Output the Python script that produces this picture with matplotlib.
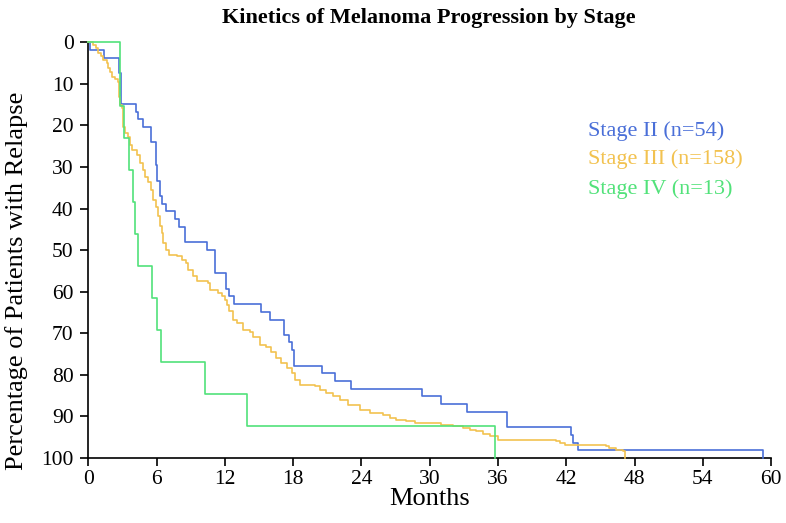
import matplotlib
matplotlib.use("Agg")
import matplotlib.pyplot as plt

# Stage II (n=54): month of each drop, cumulative % relapsed after drop
stage2_t = [0, 0.15, 1.38, 2.7, 2.85, 4.16, 4.39, 4.83, 5.5, 5.94, 6.06, 6.29, 6.44, 6.82,
            7.61, 7.99, 8.49, 10.4, 11.15, 12.1, 12.4, 12.8, 15.2, 16.0, 17.2, 17.65,
            17.94, 18.1, 20.5, 21.66, 23.1, 29.36, 30.97, 33.3, 36.8, 42.4, 42.6, 43.0, 59.3]
stage2_y = [0, 1.85, 3.7, 7.4, 14.8, 16.7, 18.5, 20.4, 24.1, 29.6, 33.3, 37.0, 38.9, 40.7,
            42.6, 44.4, 48.1, 50.0, 55.6, 59.3, 61.1, 63.0, 64.8, 66.7, 70.4, 72.2,
            74.1, 77.8, 79.6, 81.5, 83.3, 85.2, 87.0, 88.9, 92.6, 94.4, 96.3, 98.1, 100]

# Stage III (n=158)
stage3_t = [0, 0.44, 0.68, 0.88, 1.09, 1.32, 1.61, 1.76, 1.91, 2.11, 2.34, 2.58, 2.72, 2.78,
            2.93, 3.02, 3.07, 3.22, 3.51, 3.66, 3.81, 4.25, 4.54, 4.83, 4.98, 5.27, 5.48,
            5.71, 5.94, 6.15, 6.29, 6.44, 6.58, 6.82, 7.11, 7.76, 8.2, 8.58, 8.78, 9.22,
            9.52, 10.54, 10.68, 11.41, 11.71, 12.0, 12.15, 12.38, 12.73, 13.03, 13.61,
            14.2, 14.49, 15.07, 15.66, 16.1, 16.54, 16.98, 17.42, 17.86, 18.15, 18.59,
            19.9, 20.34, 20.93, 21.51, 22.1, 22.83, 23.85, 24.73, 25.9, 26.49, 27.08,
            27.95, 28.68, 31.03, 32.05, 32.92, 33.51, 34.1, 34.68, 35.27, 36.0, 41.12,
            41.41, 41.85, 45.51, 45.8, 46.39, 46.97, 47.2]
stage3_y = [0, 0.6, 1.4, 2.5, 3.3, 4.3, 5.0, 6.3, 7.1, 8.3, 8.9, 9.5, 13.1, 15.1,
            15.9, 17.9, 20.3, 21.9, 22.7, 24.7, 25.9, 27.1, 29.1, 30.7, 32.3, 33.5, 35.5,
            37.9, 39.5, 41.9, 44.3, 45.9, 48.3, 49.9, 51.1, 51.5, 52.3, 53.1, 54.7, 56.3,
            57.5, 57.9, 59.5, 60.3, 61.1, 61.9, 63.1, 64.7, 66.8, 67.5, 69.2,
            69.6, 70.8, 72.8, 73.2, 74.4, 76.0, 77.2, 78.4, 79.6, 81.2, 82.4,
            82.8, 83.6, 84.4, 85.2, 86.0, 87.2, 88.4, 89.2, 89.6, 90.4, 90.8,
            91.2, 91.6, 92.0, 92.4, 92.8, 93.2, 93.6, 94.2, 94.8, 95.6, 96.0,
            96.4, 96.9, 97.2, 97.7, 98.0, 98.4, 100]

# Stage IV (n=13)
stage4_t = [0, 2.75, 3.1, 3.6, 3.9, 4.1, 4.4, 5.6, 6.0, 6.35, 10.25, 13.95, 35.7]
stage4_y = [0, 15.4, 23.1, 30.8, 38.5, 46.2, 53.8, 61.5, 69.2, 76.9, 84.6, 92.3, 100]

labels = ["Stage II (n=54)", "Stage III (n=158)", "Stage IV (n=13)"]
colors = ["#4a6fd8", "#f2c250", "#52e27a"]
xticks = [0, 6, 12, 18, 24, 30, 36, 42, 48, 54, 60]
yticks = [0, 10, 20, 30, 40, 50, 60, 70, 80, 90, 100]

plt.rcParams['font.family'] = ['Liberation Serif', 'DejaVu Serif']

fig = plt.figure(figsize=(7.86, 5.23), dpi=100)
ax = fig.add_axes([0.1123, 0.1243, 0.8687, 0.7948])

series = [(stage2_t, stage2_y), (stage3_t, stage3_y), (stage4_t, stage4_y)]
for (t, y), c in zip(series, colors):
    ax.step(t, y, where='post', color=c, lw=1.2, clip_on=False, zorder=3)

ax.set_xlim(0, 60)
ax.set_ylim(100, 0)
ax.set_xticks(xticks)
ax.set_yticks(yticks)
ax.tick_params(direction='out', length=6, width=1.2, labelsize=15.5)
ax.tick_params(axis='y', pad=4.5)
ax.tick_params(axis='x', pad=3)
for s in ['top', 'right']:
    ax.spines[s].set_visible(False)
for s in ['left', 'bottom']:
    ax.spines[s].set_linewidth(1.2)

fig.text(0.547, 1 - 505 / 523, "Months", fontsize=19, ha='center', va='baseline')
fig.text(0.021, 1 - 281 / 523, "Percentage of Patients with Relapse", fontsize=19,
         rotation=90, ha='center', va='center')
fig.text(0.545, 0.965, "Kinetics of Melanoma Progression by Stage", fontsize=16,
         fontweight='bold', ha='center', va='center')

legend_y = [0.749, 0.695, 0.638]
for lab, c, yy in zip(labels, colors, legend_y):
    fig.text(0.748, yy, lab, color=c, fontsize=16, ha='left', va='center')

fig.savefig("out.png", dpi=100)
